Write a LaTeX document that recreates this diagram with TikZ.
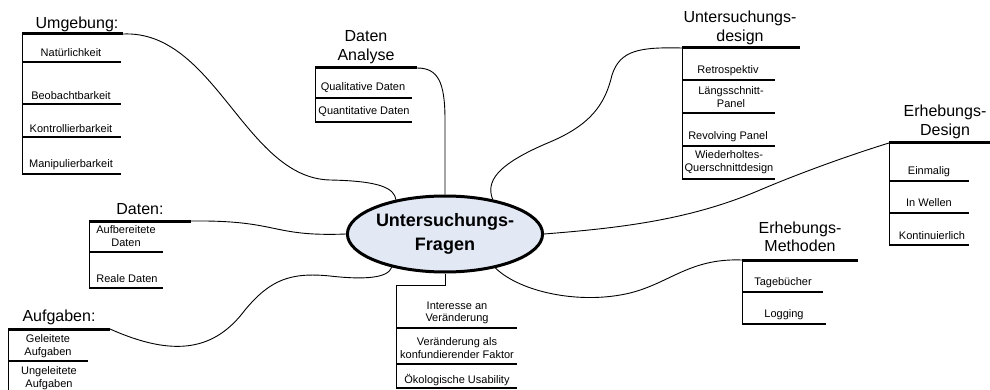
\documentclass[tikz,border=0pt]{standalone}
\usepackage{fontspec}
\setmainfont{Liberation Sans}
\usetikzlibrary{shapes.geometric}
\definecolor{qfill}{HTML}{E2E9F5}
\begin{document}
\begin{tikzpicture}[x=1pt,y=-1pt,
  head/.style={font=\fontsize{16}{18.5}\selectfont,align=center,inner sep=0pt},
  item/.style={font=\fontsize{11}{12.5}\selectfont,align=center,inner sep=0pt},
  bar/.style={line width=3pt},
  underbar/.style={line width=2.2pt},
  stem/.style={line width=1pt},
  branch/.style={line width=0.9pt},
  center node/.style={ellipse,draw=black,line width=3pt,fill=qfill,minimum width=163pt,minimum height=76pt,inner sep=0pt,align=center,font=\fontsize{18}{24}\selectfont\bfseries}]
\useasboundingbox (0,0) rectangle (990,390);

\node[center node] (q) at (445,234) {Untersuchungs-\\Fragen};

\node[head] (umg) at (77,24) {Umgebung:};
\coordinate (umgL) at (22,34);
\coordinate (umgR) at (123,34);
\node[item] (umg1) at (71,53) {Natürlichkeit};
\node[item] (umg2) at (71,96) {Beobachtbarkeit};
\node[item] (umg3) at (71,129) {Kontrollierbarkeit};
\node[item] (umg4) at (71,165) {Manipulierbarkeit};
\draw[bar] (umgL) -- (umgR);
\draw[stem] (umgL) -- (22,174);
\draw[underbar] (22,62) -- (121,62);
\draw[underbar] (22,104) -- (121,104);
\draw[underbar] (22,137) -- (121,137);
\draw[underbar] (22,174) -- (121,174);

\node[head] (dat) at (140,209) {Daten:};
\coordinate (datL) at (89,221);
\coordinate (datR) at (191,221);
\node[item] (dat1) at (126,236) {Aufbereitete\\Daten};
\node[item] (dat2) at (127,279) {Reale Daten};
\draw[bar] (datL) -- (datR);
\draw[stem] (datL) -- (89,288);
\draw[underbar] (89,252) -- (163,252);
\draw[underbar] (89,288) -- (163,288);

\node[head] (auf) at (59,317) {Aufgaben:};
\coordinate (aufL) at (8,329);
\coordinate (aufR) at (110,329);
\node[item] (auf1) at (48,346) {Geleitete\\Aufgaben};
\node[item] (auf2) at (49,378) {Ungeleitete\\Aufgaben};
\draw[bar] (aufL) -- (aufR);
\draw[stem] (aufL) -- (8,395);
\draw[underbar] (8,361) -- (88,361);

\node[head] (dan) at (366,47) {Daten\\Analyse};
\coordinate (danL) at (315,68);
\coordinate (danR) at (417,68);
\node[item] (dan1) at (363,88) {Qualitative Daten};
\node[item] (dan2) at (364,112) {Quantitative Daten};
\draw[bar] (danL) -- (danR);
\draw[stem] (danL) -- (315,122);
\draw[underbar] (315,98) -- (412,98);
\draw[underbar] (315,122) -- (412,122);

\coordinate (verL) at (396,285);
\node[item] (ver1) at (457,313) {Interesse an\\Veränderung};
\node[item] (ver2) at (457,348) {Veränderung als\\konfundierender Faktor};
\node[item] (ver3) at (457,380) {Ökologische Usability};
\draw[stem] (q.south) |- (verL) -- (396,388);
\draw[underbar] (396,328) -- (517,328);
\draw[underbar] (396,364) -- (517,364);
\draw[underbar] (396,388) -- (517,388);

\node[head] (ud) at (740,28) {Untersuchungs-\\design};
\coordinate (udL) at (682,48);
\coordinate (udR) at (800,48);
\node[item] (ud1) at (728,71) {Retrospektiv};
\node[item] (ud2) at (731,97) {Längsschnitt-\\Panel};
\node[item] (ud3) at (728,137) {Revolving Panel};
\node[item] (ud4) at (729,162) {Wiederholtes-\\Querschnittdesign};
\draw[bar] (udL) -- (udR);
\draw[stem] (udL) -- (682,179);
\draw[underbar] (682,80) -- (775,80);
\draw[underbar] (682,113) -- (775,113);
\draw[underbar] (682,146) -- (775,146);
\draw[underbar] (682,179) -- (775,179);

\node[head] (ed) at (945,122) {Erhebungs-\\Design};
\coordinate (edL) at (889,143);
\coordinate (edR) at (990,143);
\node[item] (ed1) at (929,172) {Einmalig};
\node[item] (ed2) at (929,203) {In Wellen};
\node[item] (ed3) at (932,236) {Kontinuierlich};
\draw[bar] (edL) -- (edR);
\draw[stem] (edL) -- (889,245);
\draw[underbar] (889,181) -- (969,181);
\draw[underbar] (889,213) -- (969,213);
\draw[underbar] (889,245) -- (969,245);

\node[head] (em) at (800,237) {Erhebungs-\\Methoden};
\coordinate (emL) at (742,260);
\coordinate (emR) at (858,260);
\node[item] (em1) at (783,283) {Tagebücher};
\node[item] (em2) at (784,315) {Logging};
\draw[bar] (emL) -- (emR);
\draw[stem] (emL) -- (742,324);
\draw[underbar] (742,292) -- (823,292);
\draw[underbar] (742,324) -- (826,324);

\draw[branch] (umgR) .. controls (215,30) and (245,178) .. (330,180) .. controls (380,181) and (394,188) .. (q.145);
\draw[branch] (datR) .. controls (280,220) and (270,237) .. (q.west);
\draw[branch] (aufR) .. controls (175,358) and (215,350) .. (245,310) .. controls (270,280) and (290,272) .. (330,276) .. controls (365,280) and (388,278) .. (q.212);
\draw[branch] (danR) .. controls (438,68) and (445,82) .. (445,120) -- (q.north);
\draw[branch] (q.36) .. controls (486,182) and (495,165) .. (550,142) .. controls (590,125) and (605,105) .. (612,75) .. controls (620,50) and (640,47) .. (udL);
\draw[branch] (q.east) .. controls (620,228) and (690,220) .. (760,190) .. controls (800,173) and (850,155) .. (edL);
\draw[branch] (q.-34) .. controls (520,292) and (580,305) .. (630,293) .. controls (670,283) and (690,258) .. (emL);
\end{tikzpicture}
\end{document}
